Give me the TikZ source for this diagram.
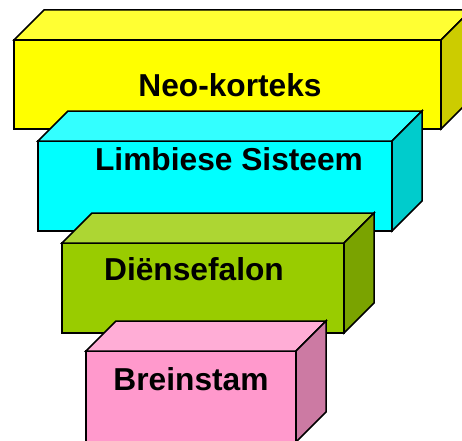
\documentclass[tikz,border=0pt]{standalone}
\usepackage{fontspec}
\setmainfont{Liberation Sans}
\definecolor{yfront}{HTML}{FFFF00}
\definecolor{ytop}{HTML}{FFFF33}
\definecolor{yside}{HTML}{CCCC00}
\definecolor{cfront}{HTML}{00FFFF}
\definecolor{ctop}{HTML}{33FFFF}
\definecolor{cside}{HTML}{00CCCC}
\definecolor{gfront}{HTML}{99CC00}
\definecolor{gtop}{HTML}{ADD633}
\definecolor{gside}{HTML}{7AA300}
\definecolor{pfront}{HTML}{FF99CC}
\definecolor{ptop}{HTML}{FFADD6}
\definecolor{pside}{HTML}{CC7AA3}
\tikzset{
  face/.style={draw=black, line width=1.5pt, line join=miter},
  frontface/.style={face, inner sep=0pt, outer sep=0pt, anchor=south west},
  lbl/.style={font=\fontsize{31.7}{38}\selectfont\bfseries, inner sep=0pt, anchor=base},
}
\newcommand{\slabtopside}[3]{%
  \draw[face, fill=#2] (#1.north west) -- ([shift={(30,30)}]#1.north west) -- ([shift={(30,30)}]#1.north east) -- (#1.north east) -- cycle;
  \draw[face, fill=#3] (#1.north east) -- ([shift={(30,30)}]#1.north east) -- ([shift={(30,30)}]#1.south east) -- (#1.south east) -- cycle;
}
\begin{document}
\begin{tikzpicture}[x=1pt,y=1pt]
\useasboundingbox (0,0) rectangle (462,440);
\clip (0,0) rectangle (462,440);
% Neo-korteks
\node[frontface, fill=yfront, minimum width=427pt, minimum height=89pt] (neo) at (14,311) {};
\slabtopside{neo}{ytop}{yside}
\node[lbl] (neotxt) at (230,343.3) {Neo-korteks};
% Limbiese Sisteem
\node[frontface, fill=cfront, minimum width=354pt, minimum height=90pt] (limb) at (38,209) {};
\slabtopside{limb}{ctop}{cside}
\node[lbl] (limbtxt) at (229,270) {Limbiese Sisteem};
% Diensefalon
\node[frontface, fill=gfront, minimum width=282pt, minimum height=90pt] (dien) at (62,107) {};
\slabtopside{dien}{gtop}{gside}
\node[lbl] (dientxt) at (194,160) {Diënsefalon};
% Breinstam
\node[frontface, fill=pfront, minimum width=210pt, minimum height=91pt] (brein) at (86,-2) {};
\slabtopside{brein}{ptop}{pside}
\node[lbl] (breintxt) at (191,50) {Breinstam};
\end{tikzpicture}
\end{document}
